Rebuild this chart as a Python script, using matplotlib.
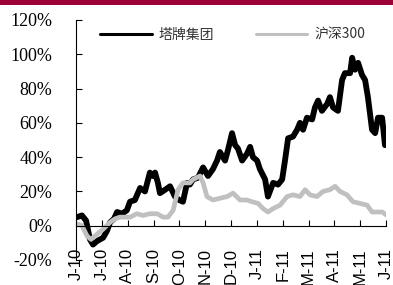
import matplotlib
matplotlib.use('Agg')
import matplotlib.pyplot as plt
from matplotlib.patches import Rectangle

# month labels (June 2010 .. June 2011)
month_labels = ['J-10', 'J-10', 'A-10', 'S-10', 'O-10', 'N-10', 'D-10',
                'J-11', 'F-11', 'M-11', 'A-11', 'M-11', 'J-11']

# 塔牌集团 cumulative return (%), x in months since start
tapai_x = [0.04, 0.23, 0.39, 0.54, 0.66, 0.81, 1.05, 1.20, 1.32, 1.47, 1.59,
           1.78, 1.97, 2.09, 2.28, 2.48, 2.67, 2.86, 2.98, 3.06, 3.17, 3.25,
           3.45, 3.64, 3.83, 3.99, 4.14, 4.30, 4.41, 4.53, 4.72, 4.92, 5.11,
           5.30, 5.46, 5.57, 5.77, 5.88, 6.04, 6.16, 6.27, 6.43, 6.62, 6.74,
           6.85, 7.01, 7.12, 7.32, 7.43, 7.63, 7.82, 7.98, 8.09, 8.21, 8.40,
           8.56, 8.67, 8.79, 8.94, 9.14, 9.25, 9.37, 9.52, 9.72, 9.83, 9.95,
           10.14, 10.30, 10.41, 10.61, 10.69, 10.80, 10.92, 11.07, 11.19,
           11.30, 11.46, 11.58, 11.69, 11.85, 11.96]
tapai_y = [5, 6, 3, -8, -11, -9, -7, -3, 2, 4, 8,
           7, 9, 14, 15, 22, 20, 31, 29, 31, 25, 19,
           21, 23, 17, 15, 14, 25, 24, 27, 28, 34, 29,
           33, 38, 43, 38, 44, 54, 47, 45, 38, 42, 46,
           40, 38, 33, 27, 17, 25, 24, 27, 38, 51, 52,
           56, 60, 56, 63, 62, 69, 73, 67, 71, 75, 69,
           67, 85, 89, 89, 98, 91, 95, 88, 85,
           75, 56, 54, 63, 63, 47]

# 沪深300 cumulative return (%)
hs300_x = [0.04, 0.23, 0.43, 0.58, 0.81, 1.05, 1.32, 1.51, 1.70, 2.09, 2.36,
           2.59, 2.86, 3.14, 3.37, 3.56, 3.76, 3.95, 4.14, 4.41, 4.53, 4.80,
           4.92, 5.07, 5.30, 5.57, 5.85, 6.08, 6.35, 6.62, 6.81, 7.05, 7.24,
           7.43, 7.63, 7.90, 8.17, 8.40, 8.67, 8.87, 9.06, 9.33, 9.56, 9.83,
           10.03, 10.22, 10.49, 10.72, 10.99, 11.27, 11.46, 11.65, 11.85, 12.04]
hs300_y = [1, 0, -6, -8, -5, -2, 2, 4, 5, 5, 7,
           6, 7, 7, 5, 5, 9, 21, 25, 25, 27, 29,
           25, 17, 15, 16, 17, 19, 15, 15, 14, 13, 10,
           8, 10, 12, 17, 18, 17, 21, 18, 17, 20, 21,
           23, 20, 18, 14, 13, 12, 8, 8, 8, 6]

fig = plt.figure(figsize=(3.93, 2.85), dpi=100)
ax = fig.add_axes([76 / 393, 1 - 260 / 285, 310 / 393, 240 / 285])

# title band at the top (cut off in the source)
fig.patches.append(Rectangle((0, 1 - 5 / 285), 1, 5 / 285, transform=fig.transFigure,
                             facecolor='#9b0036', edgecolor='none', zorder=0))

ax.plot(tapai_x, tapai_y, color='black', lw=4.2, solid_joinstyle='round',
        solid_capstyle='round', label='塔牌集团')
ax.plot(hs300_x, hs300_y, color='#c0c0c0', lw=3.4, solid_joinstyle='round',
        solid_capstyle='round', label='沪深300')

ax.set_xlim(0, 12)
ax.set_ylim(-20, 120)

ax.spines['top'].set_visible(False)
ax.spines['right'].set_visible(False)
ax.spines['bottom'].set_position(('data', 0))
ax.spines['left'].set_linewidth(0.8)
ax.spines['bottom'].set_linewidth(0.8)

ax.set_yticks(range(-20, 121, 20))
ax.set_yticklabels(['%d%%' % v for v in range(-20, 121, 20)],
                   family='Liberation Serif', fontsize=13)
ax.set_xticks(range(13))
ax.set_xticklabels(month_labels, rotation=90, family='Liberation Sans',
                   fontsize=12, va='top')
ax.tick_params(axis='y', direction='in', length=4, pad=17)
ax.tick_params(axis='x', direction='in', length=4, pad=16)

leg = ax.legend(loc='upper left', bbox_to_anchor=(0.06, 0.99), ncol=2,
                frameon=False, handlelength=3.7, handletextpad=0.5,
                columnspacing=3.0, borderaxespad=0,
                prop={'family': ['Noto Sans CJK SC', 'DejaVu Sans'], 'size': 10})
# legend handles are thinner than the plotted lines
for line in leg.get_lines():
    line.set_linewidth(2.2)
for text in leg.get_texts():
    text.set_color('#333333')

fig.savefig('out.png', dpi=100)
